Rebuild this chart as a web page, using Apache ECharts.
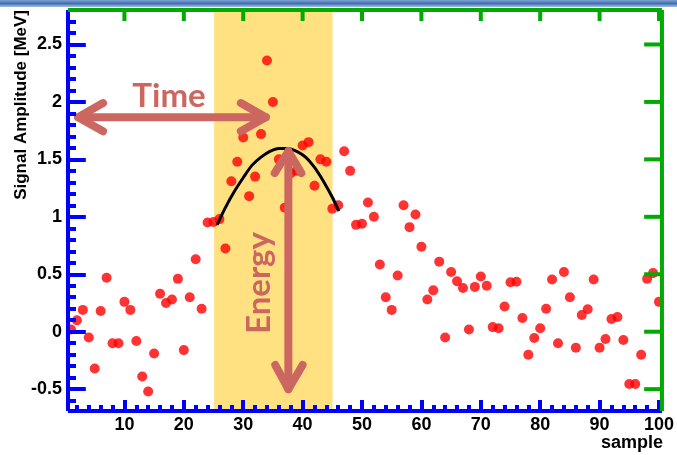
<!DOCTYPE html>
<html><head><meta charset="utf-8">
<script src="https://cdn.jsdelivr.net/npm/echarts@6/dist/echarts.min.js"></script>
<style>html,body{margin:0;padding:0;background:#fff}#c{width:677px;height:455px}</style>
</head><body><div id="c"></div>
<script>
// ---- data ----
const samples = [1,2,3,4,5,6,7,8,9,10,11,12,13,14,15,16,17,18,19,20,21,22,23,24,25,26,27,28,29,30,31,32,33,34,35,36,37,38,39,40,41,42,43,44,45,46,47,48,49,50,51,52,53,54,55,56,57,58,59,60,61,62,63,64,65,66,67,68,69,70,71,72,73,74,75,76,77,78,79,80,81,82,83,84,85,86,87,88,89,90,91,92,93,94,95,96,97,98,99,100];
const amplitude = [0.02,0.10,0.19,-0.05,-0.32,0.18,0.47,-0.10,-0.10,0.26,
  0.19,-0.08,-0.39,-0.52,-0.19,0.33,0.25,0.28,0.46,-0.16,
  0.30,0.63,0.20,0.95,0.955,0.98,0.725,1.31,1.48,1.69,
  1.18,1.35,1.72,2.36,2.00,1.50,1.08,1.38,1.40,1.62,
  1.65,1.27,1.50,1.48,1.07,1.10,1.57,1.40,0.93,0.94,
  1.125,1.00,0.585,0.30,0.19,0.49,1.10,0.91,1.02,0.74,
  0.28,0.36,0.61,-0.05,0.52,0.44,0.38,0.02,0.39,0.48,
  0.40,0.04,0.03,0.22,0.43,0.435,0.12,-0.20,-0.055,0.03,
  0.20,0.455,-0.10,0.52,0.30,-0.14,0.145,0.195,0.455,-0.14,
  -0.063,0.11,0.128,-0.072,-0.455,-0.455,-0.20,0.46,0.51,0.26];
const fitX = [25.6,27,28.5,30,31.5,33,34.5,36,37.5,39,40.5,42,43.5,45,46.1];
const fitY = [0.93,1.08,1.22,1.34,1.45,1.52,1.57,1.595,1.595,1.57,1.52,1.43,1.31,1.17,1.05];
const bandRange = [25.1, 45.05];
const xTickLabels = [10,20,30,40,50,60,70,80,90,100];
const yTickLabels = [-0.5,0,0.5,1,1.5,2,2.5];
const xMinorTicks = [2,4,6,8,12,14,16,18,22,24,26,28,32,34,36,38,42,44,46,48,52,54,56,58,62,64,66,68,72,74,76,78,82,84,86,88,92,94,96,98];
const yMinorTicks = [-0.6,-0.4,-0.3,-0.2,-0.1,0.1,0.2,0.3,0.4,0.6,0.7,0.8,0.9,1.1,1.2,1.3,1.4,1.6,1.7,1.8,1.9,2.1,2.2,2.3,2.4,2.6,2.7];
const xRange = [0.5, 100.5];
const yRange = [-0.69, 2.8];
const xTickLen = [0.096, 0.052];
const yTickLen = [3.0, 1.35];
const timeShaft = [[2.2,1.867],[33.8,1.867]];
const timeHeadL = [[6.4,1.99],[2.2,1.867],[6.4,1.745]];
const timeHeadR = [[29.6,1.99],[33.8,1.867],[29.6,1.745]];
const energyShaft = [[37.6,1.57],[37.6,-0.50]];
const energyHeadT = [[35.3,1.38],[37.6,1.57],[39.8,1.38]];
const energyHeadB = [[35.4,-0.29],[37.6,-0.50],[40.0,-0.29]];

const ARROW = '#CC6660';
const FONT = 'Liberation Sans, Arial, sans-serif';
const chart = echarts.init(document.getElementById('c'), null, {renderer:'canvas'});

const [x0, x1] = xRange, [y0, y1] = yRange;
// frame + ticks as a lines series (blue diag) — bottom and left only
const segsA = [];
segsA.push([[x0,y0],[x1,y0]], [[x0,y0],[x0,y1]]);
xTickLabels.forEach(v => segsA.push([[v,y0],[v,y0+xTickLen[0]]]));
xMinorTicks.forEach(v => segsA.push([[v,y0],[v,y0+xTickLen[1]]]));
yTickLabels.forEach(v => segsA.push([[x0,v],[x0+yTickLen[0],v]]));
yMinorTicks.forEach(v => segsA.push([[x0,v],[x0+yTickLen[1],v]]));
// top and right as separate line series (green diag)
const segsB = [];
segsB.push([[x0,y1],[x1,y1]], [[x1,y0],[x1,y1]]);
xTickLabels.forEach(v => segsB.push([[v,y1],[v,y1-xTickLen[0]]]));
yTickLabels.forEach(v => segsB.push([[x1,v],[x1-yTickLen[0],v]]));

function arrowSeries(pts){
  return {type:'line', data:pts, symbol:'none', z:10,
    lineStyle:{color:ARROW, width:8, cap:'round', join:'round'}};
}

chart.setOption({
  animation:false,
  grid:{left:68, right:14, top:10, bottom:44, show:false},
  xAxis:{type:'value', min:xRange[0], max:xRange[1],
    axisLine:{show:false, onZero:false}, axisTick:{show:false},
    axisLabel:{show:true, customValues:xTickLabels, margin:5, color:'#000', fontFamily:FONT, fontWeight:'bold', fontSize:18},
    splitLine:{show:false}},
  yAxis:{type:'value', min:yRange[0], max:yRange[1],
    axisLine:{show:false, onZero:false}, axisTick:{show:false},
    axisLabel:{show:true, customValues:yTickLabels, margin:6, color:'#000', fontFamily:FONT, fontWeight:'bold', fontSize:18, formatter:v=>String(v)},
    splitLine:{show:false}},
  series:[
    {type:'lines', coordinateSystem:'cartesian2d', z:20, clip:false,
      lineStyle:{color:'#0000ff', width:4, opacity:1}, data:segsA.map(c => ({coords:c}))},
    ...segsB.map(c => ({type:'line', data:c, symbol:'none', z:20, clip:false, lineStyle:{color:'#00aa00', width:4}})),
    {type:'line', data:[], z:6,
      markArea:{silent:true, itemStyle:{color:'rgba(255,212,76,0.7)'}, data:[[{xAxis:bandRange[0]},{xAxis:bandRange[1]}]]}},
    {type:'scatter', data:samples.map((s,i)=>[s, amplitude[i]]), symbol:'circle', symbolSize:10, z:7,
      itemStyle:{color:'#FF0000'}},
    {type:'line', data:fitX.map((x,i)=>[x, fitY[i]]), symbol:'none', smooth:0.3, z:8,
      lineStyle:{color:'#000', width:3}},
    arrowSeries(timeShaft), arrowSeries(timeHeadL), arrowSeries(timeHeadR),
    arrowSeries(energyShaft), arrowSeries(energyHeadT), arrowSeries(energyHeadB)
  ],
  graphic:[
    {type:'rect', left:0, top:0, z:100, shape:{width:677, height:7},
      style:{fill:new echarts.graphic.LinearGradient(0,0,0,1,[{offset:0,color:'#7FA3D4'},{offset:0.5,color:'#3F6FB2'},{offset:1,color:'#A9C0E0'}])}},
    {type:'text', x:21, y:10, rotation:Math.PI/2, z:100,
      style:{text:'Signal Amplitude [MeV]', fill:'#000', font:'bold 17px Liberation Sans, Arial, sans-serif', align:'right', verticalAlign:'middle'}},
    {type:'text', x:663, y:443, z:100,
      style:{text:'sample', fill:'#000', font:'bold 18px Liberation Sans, Arial, sans-serif', align:'right', verticalAlign:'middle'}},
    {type:'text', x:169, y:96, z:100,
      style:{text:'Time', fill:ARROW, font:'bold 33px Lato, sans-serif', align:'center', verticalAlign:'middle'}},
    {type:'text', x:259, y:283, rotation:Math.PI/2, z:100,
      style:{text:'Energy', fill:ARROW, font:'bold 33px Lato, sans-serif', align:'center', verticalAlign:'middle'}}
  ]
});
</script>
</body></html>
